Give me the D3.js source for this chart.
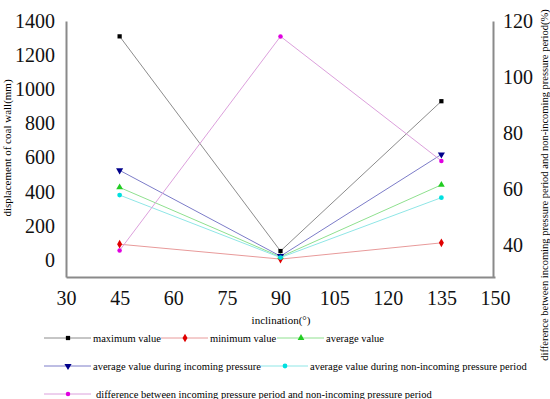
<!DOCTYPE html>
<html>
<head>
<meta charset="utf-8">
<script src="https://cdn.jsdelivr.net/npm/d3@7.9.0/dist/d3.min.js"></script>
<style>
  body { margin: 0; background: #fff; }
  svg text { font-family: "Liberation Serif", "Times New Roman", serif; }
  .axis .domain { stroke: #8a8a8a; stroke-width: 2; }
</style>
</head>
<body>
<svg id="chart" width="550" height="399"></svg>
<script>
// inclination (°)
const inclinations = [45, 90, 135];

// displacement of coal wall (mm)
const maxValue = [1310, 52, 930];
const minValue = [92, 5, 100];
const avgValue = [425, 18, 440];
const avgIncoming = [525, 22, 618];
const avgNonIncoming = [380, 14, 365];
// difference (%), right axis
const difference = [38, 114.5, 70];

const xTicks = [30, 45, 60, 75, 90, 105, 120, 135, 150];
const leftTicks = [0, 200, 400, 600, 800, 1000, 1200, 1400];
const rightTicks = [40, 60, 80, 100, 120];

const series = [
  { name: 'maximum value', values: maxValue, line: '#8c8c8c', mark: '#000', sym: d3.symbolSquare, size: 18, axis: 'L' },
  { name: 'minimum value', values: minValue, line: '#e89a9a', mark: '#e00000', sym: d3.symbolDiamond, size: 22, axis: 'L' },
  { name: 'average value', values: avgValue, line: '#8fe08f', mark: '#22cc22', sym: d3.symbolTriangle, size: 20, axis: 'L' },
  { name: 'average value during incoming pressure', values: avgIncoming, line: '#7c7cc8', mark: '#00008b', sym: d3.symbolTriangle, size: 22, axis: 'L', flip: true },
  { name: 'average value during non-incoming pressure period', values: avgNonIncoming, line: '#8fe6e6', mark: '#00e0e0', sym: d3.symbolCircle, size: 18, axis: 'L' },
  { name: 'difference between incoming pressure period and non-incoming pressure period', values: difference, line: '#dca0dc', mark: '#e000e0', sym: d3.symbolCircle, size: 16, axis: 'R' }
];

const svg = d3.select('#chart');

const x = d3.scaleLinear().domain([30, 150]).range([66, 495]);
const yL = d3.scaleLinear().domain([-100, 1400]).range([277, 21]);
const yR = d3.scaleLinear().domain([28.5, 120]).range([277, 21]);

function styleAxis(g) {
  g.attr('font-family', '"Liberation Serif", "Times New Roman", serif')
    .attr('font-size', 20);
  g.selectAll('text').attr('fill', '#111');
}

// axes
svg.append('g')
  .attr('class', 'axis')
  .attr('transform', 'translate(66,0)')
  .call(d3.axisLeft(yL).tickValues(leftTicks).tickSize(0).tickSizeOuter(0).tickPadding(11).tickFormat(d3.format('d')))
  .call(styleAxis);

svg.append('g')
  .attr('class', 'axis')
  .attr('transform', 'translate(0,277)')
  .call(d3.axisBottom(x).tickValues(xTicks).tickSize(0).tickSizeOuter(0).tickPadding(14))
  .call(styleAxis);

svg.append('g')
  .attr('class', 'axis')
  .attr('transform', 'translate(493,0)')
  .call(d3.axisRight(yR).tickValues(rightTicks).tickSize(0).tickSizeOuter(0).tickPadding(10))
  .call(styleAxis);

// axis titles
svg.append('text')
  .attr('transform', 'translate(11,148) rotate(-90)')
  .attr('text-anchor', 'middle')
  .attr('font-size', 11)
  .text('displacement of coal wall(mm)');

svg.append('text')
  .attr('x', 281).attr('y', 324)
  .attr('text-anchor', 'middle')
  .attr('font-size', 11)
  .text('inclination(°)');

svg.append('text')
  .attr('transform', 'translate(548,185) rotate(-90)')
  .attr('text-anchor', 'middle')
  .attr('font-size', 10.5)
  .text('difference between incoming pressure period and non-incoming pressure period(%)');

// lines and markers
series.forEach((s) => {
  const y = s.axis === 'L' ? yL : yR;
  const pts = inclinations.map((d, i) => [x(d), y(s.values[i])]);
  svg.append('path')
    .attr('d', d3.line()(pts))
    .attr('fill', 'none')
    .attr('stroke', s.line)
    .attr('stroke-width', 1);
  pts.forEach((p) => {
    svg.append('path')
      .attr('d', d3.symbol().type(s.sym).size(s.size)())
      .attr('transform', `translate(${p[0]},${p[1]})${s.flip ? ' rotate(180)' : ''}`)
      .attr('fill', s.mark);
  });
});

// legend
const legendItems = [
  { s: 0, x: 44, y: 338 }, { s: 1, x: 161, y: 338 }, { s: 2, x: 277, y: 338 },
  { s: 3, x: 44, y: 366 }, { s: 4, x: 261, y: 366 },
  { s: 5, x: 44, y: 394, gap: 3 }
];
legendItems.forEach((it) => {
  const s = series[it.s];
  const g = svg.append('g').attr('transform', `translate(${it.x},${it.y})`);
  g.append('line').attr('x1', 0).attr('x2', 47).attr('stroke', s.line).attr('stroke-width', 1);
  g.append('path')
    .attr('d', d3.symbol().type(s.sym).size(s.size)())
    .attr('transform', `translate(24,0)${s.flip ? ' rotate(180)' : ''}`)
    .attr('fill', s.mark);
  g.append('text')
    .attr('x', 49 + (it.gap || 0)).attr('y', 4)
    .attr('font-size', 10.5)
    .text(s.name);
});
</script>
</body>
</html>
